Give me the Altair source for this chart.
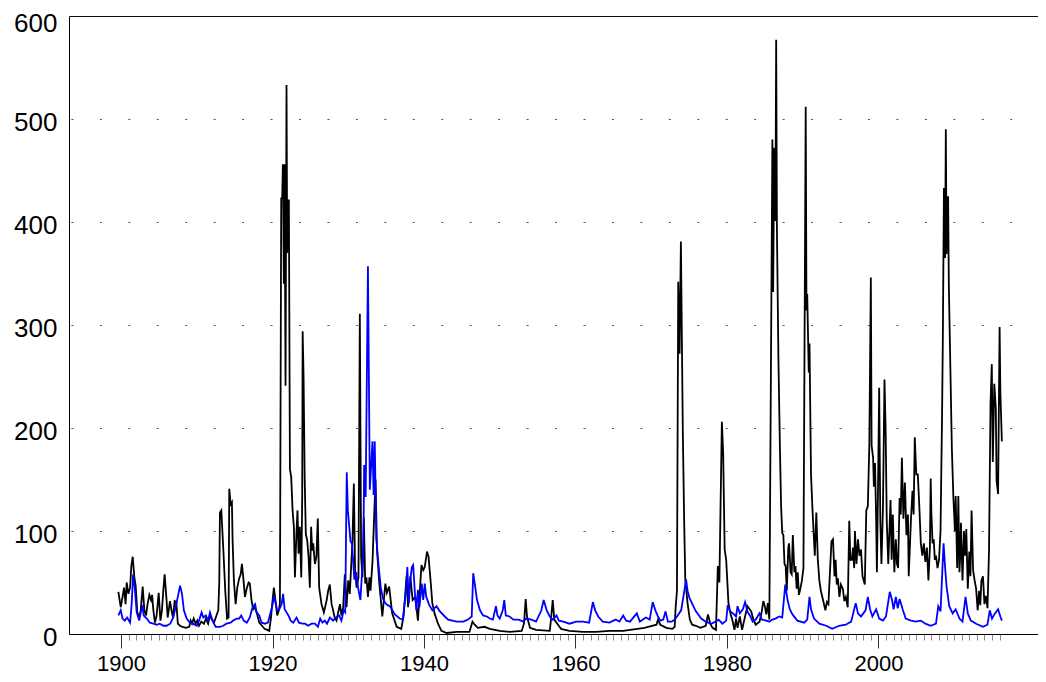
import altair as alt
import pandas as pd

# ---- black series (year, value) ----
black_year = [
    1899.65, 1899.96, 1900.2, 1900.4, 1900.6, 1900.75, 1900.97, 1901.2, 1901.36, 1901.54, 1901.76, 1901.93,
    1902.15, 1902.4, 1902.6, 1902.86, 1903.08, 1903.3, 1903.5, 1903.74, 1903.96, 1904.1, 1904.27, 1904.48,
    1904.7, 1904.97, 1905.2, 1905.4, 1905.6, 1905.76, 1905.98, 1906.16, 1906.46, 1906.64, 1906.86, 1907.08,
    1907.3, 1907.5, 1907.78, 1908.1, 1908.6, 1909.0, 1909.2, 1909.37, 1909.6, 1909.85, 1910.07, 1910.3,
    1910.6, 1910.95, 1911.2, 1911.5, 1911.74, 1912.0, 1912.27, 1912.6, 1912.84, 1912.97, 1913.06, 1913.24,
    1913.5, 1913.76, 1914.0, 1914.2, 1914.29, 1914.47, 1914.64, 1914.73, 1914.9, 1915.13, 1915.35, 1915.6,
    1915.8, 1915.96, 1916.14, 1916.36, 1916.62, 1916.84, 1917.0, 1917.24, 1917.46, 1917.68, 1917.9, 1918.25,
    1918.6, 1918.95, 1919.3, 1919.57, 1919.8, 1919.96, 1920.18, 1920.4, 1920.62, 1920.84, 1920.98, 1921.15,
    1921.28, 1921.37, 1921.5, 1921.59, 1921.72, 1921.85, 1921.94, 1922.03, 1922.16, 1922.3, 1922.47, 1922.65,
    1922.82, 1922.96, 1923.17, 1923.3, 1923.44, 1923.6, 1923.8, 1923.92, 1923.98, 1924.1, 1924.25, 1924.4,
    1924.58, 1924.76, 1924.93, 1925.1, 1925.24, 1925.37, 1925.6, 1925.8, 1925.98, 1926.16, 1926.47, 1926.78,
    1927.13, 1927.35, 1927.57, 1927.8, 1928.0, 1928.2, 1928.45, 1928.67, 1928.9, 1929.1, 1929.33, 1929.55,
    1929.77, 1930.0, 1930.2, 1930.4, 1930.56, 1930.74, 1930.9, 1931.1, 1931.35, 1931.53, 1931.7, 1931.88,
    1932.06, 1932.24, 1932.4, 1932.6, 1932.8, 1932.94, 1933.2, 1933.6, 1933.8, 1934.1, 1934.5, 1934.9,
    1935.1, 1935.4, 1935.8, 1936.4, 1937.0, 1937.3, 1937.7, 1937.9, 1938.2, 1938.5, 1938.85, 1939.2,
    1939.67, 1939.9, 1940.1, 1940.4, 1940.6, 1940.9, 1941.1, 1941.4, 1941.85, 1942.3, 1943.0, 1944.3,
    1946.0, 1946.4, 1946.7, 1947.1, 1948.0, 1948.7, 1950.0, 1951.3, 1952.9, 1953.2, 1953.43, 1953.6,
    1954.0, 1954.8, 1956.6, 1956.7, 1957.0, 1957.2, 1957.7, 1958.1, 1959.2, 1961.0, 1962.7, 1964.5,
    1966.3, 1969.1, 1970.7, 1970.9, 1971.2, 1972.0, 1972.8, 1973.1, 1973.22, 1973.4, 1973.57, 1973.75,
    1973.92, 1974.18, 1974.35, 1974.5, 1974.8, 1975.1, 1975.4, 1975.9, 1976.5, 1977.2, 1977.5, 1977.8,
    1978.1, 1978.55, 1978.8, 1979.0, 1979.33, 1979.5, 1979.7, 1979.9, 1980.2, 1980.5, 1980.7, 1981.0,
    1981.2, 1981.4, 1981.7, 1982.0, 1982.3, 1982.7, 1983.2, 1983.5, 1983.8, 1984.3, 1984.6, 1984.8,
    1985.0, 1985.2, 1985.4, 1985.6, 1986.0, 1986.1, 1986.25, 1986.4, 1986.5, 1986.6, 1986.8, 1987.0,
    1987.15, 1987.3, 1987.45, 1987.6, 1987.75, 1987.9, 1988.1, 1988.2, 1988.4, 1988.55, 1988.7, 1988.9,
    1989.05, 1989.2, 1989.35, 1989.5, 1989.7, 1989.9, 1990.1, 1990.4, 1990.5, 1990.6, 1990.8, 1990.9,
    1991.1, 1991.3, 1991.6, 1991.8, 1992.0, 1992.2, 1992.4, 1992.75, 1993.0, 1993.2, 1993.4, 1993.6,
    1993.8, 1994.0, 1994.2, 1994.35, 1994.5, 1994.65, 1994.85, 1995.05, 1995.3, 1995.5, 1995.7, 1995.95,
    1996.15, 1996.3, 1996.5, 1996.65, 1996.8, 1996.9, 1997.1, 1997.3, 1997.5, 1997.7, 1997.9, 1998.2,
    1998.4, 1998.6, 1998.8, 1999.0, 1999.1, 1999.3, 1999.4, 1999.55, 1999.7, 1999.8, 1999.95, 2000.1,
    2000.25, 2000.4, 2000.6, 2000.8, 2000.95, 2001.1, 2001.3, 2001.6, 2001.75, 2001.9, 2002.1, 2002.3,
    2002.45, 2002.6, 2002.8, 2002.95, 2003.1, 2003.3, 2003.5, 2003.7, 2003.9, 2004.0, 2004.3, 2004.5,
    2004.65, 2004.8, 2005.0, 2005.2, 2005.4, 2005.6, 2005.8, 2006.0, 2006.2, 2006.4, 2006.6, 2006.8,
    2006.9, 2007.0, 2007.15, 2007.3, 2007.45, 2007.6, 2007.8, 2008.0, 2008.2, 2008.4, 2008.5, 2008.65,
    2008.8, 2008.9, 2009.0, 2009.2, 2009.3, 2009.5, 2009.7, 2009.9, 2010.1, 2010.2, 2010.4, 2010.55,
    2010.7, 2010.8, 2010.9, 2011.1, 2011.3, 2011.45, 2011.6, 2011.8, 2012.0, 2012.15, 2012.3, 2012.5,
    2012.7, 2012.9, 2013.1, 2013.3, 2013.45, 2013.6, 2013.8, 2014.0, 2014.2, 2014.4, 2014.6, 2014.8,
    2014.97, 2015.1, 2015.3, 2015.5, 2015.6, 2015.8, 2016.0, 2016.1, 2016.3,
]
black_value = [
    41, 26, 36, 45, 29, 50, 39, 45, 66, 75, 55, 47,
    21, 16, 23, 46, 23, 18, 29, 38, 33, 38, 23, 11,
    18, 40, 13, 23, 44, 58, 36, 16, 32, 24, 16, 32,
    31, 10, 8, 7, 6, 7, 13, 10, 15, 10, 13, 8,
    12, 10, 15, 10, 18, 14, 11, 18, 23, 50, 118, 120,
    83, 42, 15, 16, 141, 126, 128, 91, 52, 29, 45, 54,
    58, 68, 55, 36, 45, 50, 49, 32, 24, 26, 21, 11,
    8, 5, 4, 3, 16, 29, 45, 32, 18, 23, 30, 423,
    423, 456, 340, 456, 241, 533, 370, 421, 421, 160, 152, 120,
    104, 55, 100, 120, 78, 104, 55, 133, 294, 250, 150, 97,
    91, 75, 45, 104, 81, 88, 68, 75, 112, 45, 29, 21,
    32, 42, 48, 29, 23, 16, 13, 21, 29, 18, 26, 58,
    26, 52, 39, 68, 91, 146, 62, 45, 55, 311, 75, 55,
    113, 49, 55, 36, 55, 42, 70, 150, 81, 49, 17, 49,
    40, 46, 20, 7, 5, 17, 56, 26, 56, 33, 36, 13,
    67, 62, 65, 80, 75, 49, 30, 20, 10, 3, 1, 2,
    2, 12, 9, 6, 7, 5, 3, 2, 3, 10, 34, 17,
    6, 4, 3, 9, 33, 14, 9, 5, 3, 2, 2, 3,
    3, 6, 9, 14, 9, 6, 5, 7, 25, 42, 342, 272,
    381, 192, 111, 53, 30, 14, 9, 8, 6, 8, 19, 10,
    6, 4, 66, 50, 206, 176, 82, 72, 30, 19, 14, 4,
    15, 6, 17, 4, 14, 27, 22, 14, 9, 12, 22, 32,
    27, 19, 30, 14, 480, 332, 472, 401, 577, 393, 266, 179,
    124, 98, 96, 68, 66, 42, 84, 88, 60, 58, 96, 60,
    66, 44, 60, 38, 44, 52, 64, 512, 314, 330, 254, 282,
    155, 120, 76, 118, 72, 52, 42, 31, 23, 31, 29, 60,
    90, 92, 56, 72, 48, 54, 36, 48, 44, 32, 36, 26,
    110, 72, 72, 84, 64, 100, 68, 92, 76, 82, 56, 48,
    120, 124, 183, 346, 183, 171, 143, 166, 112, 60, 143, 239,
    110, 68, 123, 247, 200, 110, 68, 130, 72, 116, 60, 92,
    68, 64, 132, 116, 171, 112, 147, 96, 116, 56, 112, 139,
    116, 191, 155, 155, 124, 88, 76, 88, 70, 84, 52, 84,
    151, 116, 88, 92, 72, 76, 64, 72, 100, 211, 282, 433,
    365, 490, 369, 425, 338, 258, 179, 132, 100, 134, 64, 134,
    60, 76, 108, 52, 100, 76, 102, 44, 80, 56, 120, 62,
    52, 44, 23, 42, 28, 52, 56, 29, 37, 25, 80, 223,
    262, 167, 243, 219, 149, 136, 298, 235, 187,
]

# ---- blue series (year, value) ----
blue_year = [
    1899.65, 1899.96, 1900.2, 1900.5, 1900.8, 1901.2, 1901.4, 1901.6, 1901.8, 1902.07, 1902.4, 1902.8,
    1903.0, 1903.4, 1903.8, 1904.26, 1904.7, 1905.1, 1905.6, 1906.0, 1906.5, 1906.9, 1907.3, 1907.8,
    1908.05, 1908.3, 1908.66, 1909.1, 1909.5, 1910.0, 1910.3, 1910.64, 1910.86, 1911.2, 1911.5, 1911.74,
    1911.96, 1912.2, 1912.5, 1913.06, 1913.5, 1913.9, 1914.47, 1914.8, 1915.26, 1915.6, 1915.87, 1916.2,
    1916.6, 1917.0, 1917.37, 1917.7, 1917.9, 1918.25, 1918.56, 1919.0, 1919.4, 1919.74, 1920.0, 1920.2,
    1920.45, 1920.6, 1920.9, 1921.2, 1921.4, 1921.6, 1921.85, 1922.1, 1922.4, 1922.74, 1923.17, 1923.5,
    1923.9, 1924.3, 1924.7, 1925.15, 1925.6, 1926.0, 1926.3, 1926.6, 1926.9, 1927.2, 1927.57, 1928.0,
    1928.36, 1928.8, 1929.1, 1929.4, 1929.6, 1929.8, 1929.95, 1930.3, 1930.5, 1930.8, 1931.05, 1931.3,
    1931.6, 1932.0, 1932.1, 1932.3, 1932.6, 1932.85, 1933.2, 1933.35, 1933.5, 1933.7, 1934.0, 1934.3,
    1934.6, 1934.9, 1935.2, 1935.5, 1936.15, 1936.8, 1937.2, 1937.6, 1937.8, 1938.0, 1938.2, 1938.4,
    1938.57, 1938.8, 1939.0, 1939.2, 1939.4, 1939.7, 1939.9, 1940.1, 1940.3, 1940.7, 1941.1, 1941.65,
    1942.1, 1942.75, 1943.2, 1944.3, 1945.2, 1945.8, 1946.3, 1946.5, 1946.7, 1947.0, 1947.4, 1947.8,
    1948.3, 1948.7, 1949.1, 1949.5, 1949.7, 1950.0, 1950.4, 1950.6, 1950.8, 1951.3, 1951.8, 1952.5,
    1953.1, 1953.5, 1954.2, 1954.8, 1955.5, 1955.8, 1956.2, 1956.6, 1957.0, 1957.5, 1957.8, 1958.4,
    1959.2, 1960.1, 1961.0, 1961.8, 1962.3, 1962.6, 1963.0, 1963.6, 1964.5, 1965.3, 1965.8, 1966.3,
    1966.7, 1967.2, 1968.1, 1968.5, 1968.9, 1969.3, 1969.8, 1970.2, 1970.55, 1970.9, 1971.2, 1971.6,
    1971.9, 1972.2, 1972.7, 1973.1, 1973.5, 1973.95, 1974.4, 1974.6, 1974.8, 1975.05, 1975.5, 1975.9,
    1976.6, 1977.2, 1977.9, 1978.5, 1978.9, 1979.4, 1979.9, 1980.1, 1980.4, 1980.8, 1981.2, 1981.4,
    1981.7, 1982.1, 1982.4, 1982.7, 1983.1, 1983.4, 1983.8, 1984.3, 1984.6, 1985.2, 1985.6, 1986.0,
    1986.4, 1986.9, 1987.3, 1987.7, 1988.0, 1988.3, 1988.65, 1989.3, 1990.2, 1990.6, 1990.9, 1991.1,
    1991.5, 1992.2, 1993.1, 1993.9, 1994.8, 1995.7, 1996.4, 1997.0, 1997.3, 1997.7, 1998.3, 1998.6,
    1998.9, 1999.2, 1999.7, 2000.1, 2000.6, 2001.0, 2001.5, 2001.8, 2002.0, 2002.3, 2002.55, 2002.8,
    2003.2, 2003.6, 2004.3, 2004.9, 2005.6, 2006.2, 2006.9, 2007.6, 2007.9, 2008.2, 2008.6, 2008.8,
    2009.0, 2009.35, 2009.8, 2010.2, 2010.7, 2011.1, 2011.5, 2011.8, 2012.2, 2012.9, 2013.8, 2014.4,
    2014.7, 2015.0, 2015.3, 2015.8, 2016.1, 2016.3,
]
blue_value = [
    18, 23, 15, 13, 16, 11, 29, 58, 46, 21, 13, 28,
    18, 15, 11, 10, 9, 10, 8, 8, 10, 16, 29, 47,
    39, 23, 15, 11, 10, 8, 13, 21, 16, 18, 13, 21,
    16, 11, 7, 7, 8, 10, 11, 13, 15, 15, 18, 13,
    11, 16, 26, 29, 21, 18, 11, 10, 11, 21, 28, 37,
    29, 23, 24, 29, 39, 24, 21, 18, 13, 11, 16, 11,
    10, 10, 8, 10, 10, 7, 15, 11, 13, 10, 16, 13,
    16, 18, 13, 23, 21, 157, 120, 90, 88, 53, 60, 45,
    33, 81, 164, 133, 357, 140, 187, 135, 187, 93, 67, 45,
    34, 30, 28, 27, 19, 15, 14, 40, 65, 30, 53, 65,
    67, 40, 23, 43, 26, 49, 33, 49, 36, 28, 23, 27,
    22, 17, 14, 12, 12, 14, 17, 59, 49, 33, 23, 18,
    17, 15, 14, 27, 18, 15, 23, 33, 18, 17, 14, 14,
    12, 15, 14, 12, 23, 33, 23, 17, 14, 18, 13, 12,
    10, 12, 12, 11, 31, 23, 17, 12, 11, 14, 12, 18,
    13, 12, 20, 12, 14, 16, 14, 31, 23, 17, 13, 14,
    22, 12, 12, 14, 18, 23, 43, 53, 42, 35, 28, 22,
    15, 12, 10, 12, 14, 10, 13, 28, 22, 20, 17, 27,
    20, 24, 31, 22, 17, 12, 14, 20, 14, 13, 12, 14,
    15, 17, 16, 48, 33, 24, 19, 13, 11, 14, 36, 24,
    15, 10, 8, 5, 8, 9, 12, 30, 20, 17, 23, 36,
    24, 17, 24, 15, 13, 17, 41, 33, 24, 36, 25, 34,
    24, 15, 13, 12, 13, 10, 8, 10, 27, 22, 88, 65,
    46, 27, 20, 24, 15, 12, 36, 20, 13, 10, 7, 9,
    23, 15, 19, 24, 17, 13,
]

# ---- axis ticks ----
y_ticks = [0, 100, 200, 300, 400, 500, 600]
x_ticks = list(range(1900, 2017))  # yearly ticks, labelled every 20 years

black_df = pd.DataFrame({"year": black_year, "value": black_value})
blue_df = pd.DataFrame({"year": blue_year, "value": blue_value})

FONT = "Liberation Sans"
MAJOR = "datum.value % 20 === 0"

x_scale = alt.Scale(domain=[1893.13, 2021.07], nice=False, zero=False)
y_scale = alt.Scale(domain=[0, 600], nice=False, zero=True)

x_axis = alt.Axis(
    values=x_ticks,
    tickCount=400,
    format="d",
    labelExpr="datum.value % 20 === 0 ? datum.label : ''",
    labelOverlap=False,
    labelFlush=False,
    labelFont=FONT,
    labelFontSize=22,
    labelColor="black",
    labelPadding=5,
    tickSize={"condition": {"test": MAJOR, "value": 14}, "value": 6},
    tickColor={"condition": {"test": MAJOR, "value": "#333333"}, "value": "#888888"},
    tickWidth=1,
    domainColor="black",
    domainWidth=1,
    grid=False,
    title=None,
)

y_axis = alt.Axis(
    values=y_ticks,
    tickCount=20,
    labelFont=FONT,
    labelFontSize=26,
    labelColor="black",
    labelPadding=12,
    labelOffset={"condition": {"test": "datum.value === 600", "value": 7}, "value": 3},
    labelFlush=False,
    labelOverlap=False,
    ticks=False,
    domainColor="black",
    domainWidth=1,
    grid=True,
    gridColor={"condition": {"test": "datum.value === 600", "value": "black"}, "value": "#555555"},
    gridDash={"condition": {"test": "datum.value === 600", "value": [1, 0]}, "value": [2, 26.45]},
    gridDashOffset=26.55,
    gridWidth=1,
    title=None,
)

black_line = alt.Chart(black_df).mark_line(color="#000000", strokeWidth=1.8).encode(
    x=alt.X("year:Q", scale=x_scale, axis=x_axis),
    y=alt.Y("value:Q", scale=y_scale, axis=y_axis),
)

blue_line = alt.Chart(blue_df).mark_line(color="#0000FF", strokeWidth=1.8).encode(
    x=alt.X("year:Q", scale=x_scale),
    y=alt.Y("value:Q", scale=y_scale),
)

chart = alt.layer(black_line, blue_line).properties(
    width=969,
    height=618,
    autosize=alt.AutoSizeParams(type="none"),
    padding={"left": 61, "top": 8, "right": 0, "bottom": 42},
    background="white",
).configure_view(stroke=None)

chart.save("out.html", embed_options={"renderer": "svg", "actions": False})
